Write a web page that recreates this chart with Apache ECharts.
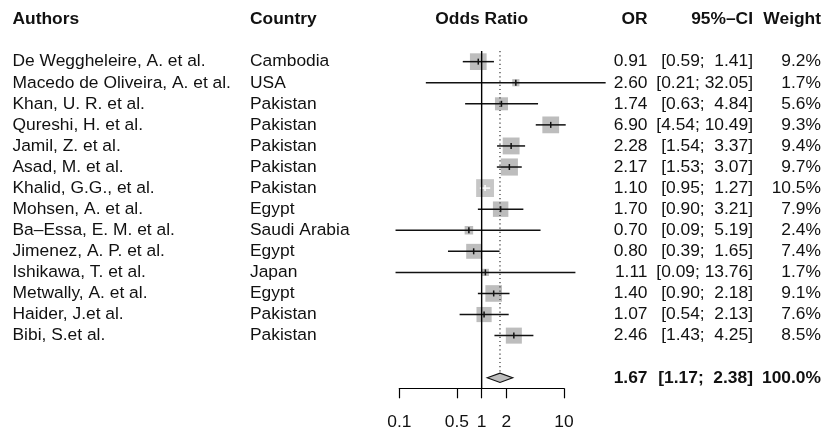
<!DOCTYPE html>
<html><head><meta charset="utf-8">
<script src="https://cdn.jsdelivr.net/npm/echarts@6/dist/echarts.min.js"></script>
<style>html,body{margin:0;padding:0;background:#fff}#c{width:825px;height:430px}</style>
</head><body><div id="c"></div>
<script>
// ---------- data ----------
const authors = [
  'De Weggheleire, A. et al.', 'Macedo de Oliveira, A. et al.', 'Khan, U. R. et al.',
  'Qureshi, H. et al.', 'Jamil, Z. et al.', 'Asad, M. et al.', 'Khalid, G.G., et al.',
  'Mohsen, A. et al.', 'Ba\u2013Essa, E. M. et al.', 'Jimenez, A. P. et al.',
  'Ishikawa, T. et al.', 'Metwally, A. et al.', 'Haider, J.et al.', 'Bibi, S.et al.'
];
const countries = [
  'Cambodia', 'USA', 'Pakistan', 'Pakistan', 'Pakistan', 'Pakistan', 'Pakistan',
  'Egypt', 'Saudi Arabia', 'Egypt', 'Japan', 'Egypt', 'Pakistan', 'Pakistan'
];
const oddsRatio = [0.91, 2.60, 1.74, 6.90, 2.28, 2.17, 1.10, 1.70, 0.70, 0.80, 1.11, 1.40, 1.07, 2.46];
const ciLower   = [0.59, 0.21, 0.63, 4.54, 1.54, 1.53, 0.95, 0.90, 0.09, 0.39, 0.09, 0.90, 0.54, 1.43];
const ciUpper   = [1.41, 32.05, 4.84, 10.49, 3.37, 3.07, 1.27, 3.21, 5.19, 1.65, 13.76, 2.18, 2.13, 4.25];
const weights   = [9.2, 1.7, 5.6, 9.3, 9.4, 9.7, 10.5, 7.9, 2.4, 7.4, 1.7, 9.1, 7.6, 8.5];
const pooledOR = 1.67, pooledLower = 1.17, pooledUpper = 2.38, pooledWeight = 100.0;
const headers = ['Authors', 'Country', 'Odds Ratio', 'OR', '95%\u2013CI', 'Weight'];
const tickValues = [0.1, 0.5, 1, 2, 10];
const nullValue = 1;

// ---------- layout / style ----------
const FONT = '"Liberation Sans", Arial, Helvetica, sans-serif';
const FS = 17.4;
const ROW_MIN = -2, ROW_MAX = 15.5;
const HEADER_ROW = -2, POOLED_ROW = 15;
const GRID_TOP = 19.5, GRID_H = 368.8;
const SQUARE_K = 5.5;
const LW = 1.5;
const COLS = {
  author: {x: 12.5, align: 'left'},
  country: {x: 250, align: 'left'},
  plot: {x: 481.7, align: 'center'},
  or: {x: 647.5, align: 'right'},
  ci: {x: 753, align: 'right'},
  weight: {x: 821, align: 'right'}
};

function f2(v) { return v.toFixed(2); }
function padL(s, n) { while (s.length < n) s = ' ' + s; return s; }
function ciText(lo, up) { return '[' + f2(lo) + '; ' + padL(f2(up), 5) + ']'; }

const textRows = [];
textRows.push({row: HEADER_ROW, bold: true, cells: [
  ['author', headers[0]], ['country', headers[1]], ['plot', headers[2]],
  ['or', headers[3]], ['ci', headers[4]], ['weight', headers[5]]
]});
authors.forEach((a, i) => {
  textRows.push({row: i, bold: false, cells: [
    ['author', a], ['country', countries[i]], ['or', f2(oddsRatio[i])],
    ['ci', ciText(ciLower[i], ciUpper[i])], ['weight', weights[i].toFixed(1) + '%']
  ]});
});
textRows.push({row: POOLED_ROW, bold: true, cells: [
  ['or', f2(pooledOR)], ['ci', ciText(pooledLower, pooledUpper)], ['weight', pooledWeight.toFixed(1) + '%']
]});

const chart = echarts.init(document.getElementById('c'), null, {renderer: 'canvas'});
const yCommon = {type: 'value', min: ROW_MIN, max: ROW_MAX, inverse: true, show: false};

chart.setOption({
  animation: false,
  backgroundColor: '#fff',
  grid: [
    {left: 399.3, width: 164.7, top: GRID_TOP, height: GRID_H, outerBoundsMode: 'none'},
    {left: 0, width: 825, top: GRID_TOP, height: GRID_H, outerBoundsMode: 'none'}
  ],
  xAxis: [
    {
      type: 'log', logBase: 10, gridIndex: 0, min: 0.1, max: 10, position: 'bottom',
      axisLine: {show: true, onZero: false, lineStyle: {color: '#000', width: 1.2}},
      axisTick: {show: true, length: 10, customValues: tickValues, lineStyle: {color: '#000', width: 1.2}},
      axisLabel: {
        show: true, customValues: tickValues, margin: 25.5, fontSize: FS, color: '#111', fontFamily: FONT,
        formatter: v => String(+(+v).toPrecision(2))
      },
      splitLine: {show: false}
    },
    {type: 'value', gridIndex: 1, min: 0, max: 825, show: false}
  ],
  yAxis: [
    Object.assign({gridIndex: 0}, yCommon),
    Object.assign({gridIndex: 1}, yCommon)
  ],
  series: [
    { // line of no effect
      type: 'line', xAxisIndex: 0, yAxisIndex: 0, silent: true, symbol: 'none',
      data: [[nullValue, -0.5], [nullValue, ROW_MAX]],
      lineStyle: {color: '#000', width: 1.4}
    },
    { // pooled estimate dotted line
      type: 'line', xAxisIndex: 0, yAxisIndex: 0, silent: true, symbol: 'none',
      data: [[pooledOR, -0.5], [pooledOR, POOLED_ROW - 0.25]],
      lineStyle: {color: '#333', width: 1.2, type: [1.2, 3]}
    },
    { // study squares + CIs
      type: 'custom', xAxisIndex: 0, yAxisIndex: 0, clip: false, silent: true,
      encode: {x: [0, 1, 2], y: 4},
      data: oddsRatio.map((v, i) => [v, ciLower[i], ciUpper[i], weights[i], i]),
      renderItem(params, api) {
        const row = api.value(4);
        const c = api.coord([api.value(0), row]);
        const lo = api.coord([api.value(1), row]);
        const hi = api.coord([api.value(2), row]);
        const side = SQUARE_K * Math.sqrt(api.value(3));
        const inside = lo[0] >= c[0] - side / 2 && hi[0] <= c[0] + side / 2;
        const lc = inside ? '#fff' : '#111';
        return {type: 'group', children: [
          {type: 'rect', shape: {x: c[0] - side / 2, y: c[1] - side / 2, width: side, height: side},
           style: {fill: inside ? '#c6c6c6' : '#bdbdbd'}},
          {type: 'line', shape: {x1: lo[0], y1: c[1], x2: hi[0], y2: c[1]}, style: {stroke: lc, lineWidth: LW}},
          {type: 'line', shape: {x1: c[0], y1: c[1] - 3, x2: c[0], y2: c[1] + 3}, style: {stroke: lc, lineWidth: LW}}
        ]};
      }
    },
    { // pooled diamond
      type: 'custom', xAxisIndex: 0, yAxisIndex: 0, clip: false, silent: true,
      encode: {x: [0, 1, 2], y: 3},
      data: [[pooledOR, pooledLower, pooledUpper, POOLED_ROW]],
      renderItem(params, api) {
        const row = api.value(3);
        const c = api.coord([api.value(0), row]);
        const lo = api.coord([api.value(1), row]);
        const hi = api.coord([api.value(2), row]);
        const h = 4.7;
        return {type: 'polygon', shape: {points: [[lo[0], c[1]], [c[0], c[1] - h], [hi[0], c[1]], [c[0], c[1] + h]]},
          style: {fill: '#bdbdbd', stroke: '#111', lineWidth: 1.2}};
      }
    },
    { // table text
      type: 'custom', xAxisIndex: 1, yAxisIndex: 1, clip: false, silent: true,
      data: textRows.map(r => [0, r.row]),
      renderItem(params, api) {
        const r = textRows[params.dataIndex];
        const children = r.cells.map(([key, text]) => {
          const col = COLS[key];
          const p = api.coord([col.x, r.row]);
          return {type: 'text', style: {
            x: p[0], y: p[1], text: text, align: col.align, verticalAlign: 'middle',
            fontSize: FS, fontFamily: FONT, fontWeight: r.bold ? 'bold' : 'normal', fill: '#111'
          }};
        });
        return {type: 'group', children};
      }
    }
  ]
});
</script>
</body></html>
